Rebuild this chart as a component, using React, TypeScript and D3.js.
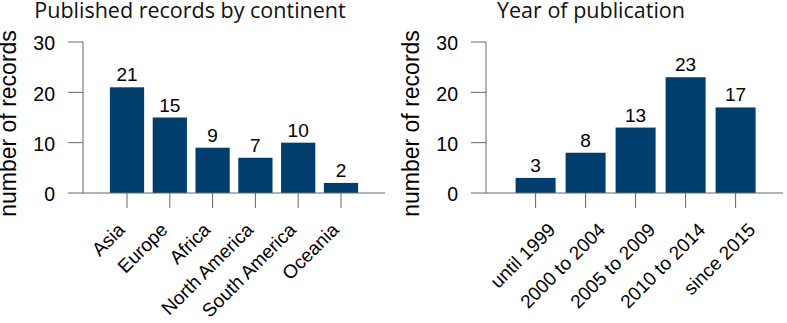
import * as d3 from "d3";

const continents = ["Asia", "Europe", "Africa", "North America", "South America", "Oceania"];
const continentCounts = [21, 15, 9, 7, 10, 2];

const periods = ["until 1999", "2000 to 2004", "2005 to 2009", "2010 to 2014", "since 2015"];
const periodCounts = [3, 8, 13, 23, 17];

const yTicks = [0, 10, 20, 30];

const BAR = "#003e6e";
const AXIS = "#666";
const SANS = "'Liberation Sans', Arial, Helvetica, sans-serif";
const TITLE_FONT = "'Open Sans', 'Noto Sans', sans-serif";

function Panel({ title, cats, vals, axisX, xEnd, bandRange, labelDx, tickLabelX, yTitleX, titleX }) {
  const y = d3.scaleLinear().domain([0, 30]).range([193, 42]);
  const x = d3.scaleBand().domain(cats).range(bandRange).paddingInner(0.2).paddingOuter(0.5);
  const tick = 15;

  return (
    <g>
      <text x={titleX} y={18} textAnchor="middle" fontFamily={TITLE_FONT} fontSize={21.5} fill="#111">
        {title}
      </text>
      <text
        transform={`translate(${yTitleX},123.5) rotate(-90)`}
        textAnchor="middle"
        fontFamily={SANS}
        fontSize={23}
        fill="#000"
      >
        number of records
      </text>

      {/* bars */}
      {cats.map((c, i) => (
        <rect key={c} x={x(c)} y={y(vals[i])} width={x.bandwidth()} height={y(0) - y(vals[i])} fill={BAR} />
      ))}

      {/* value labels */}
      {cats.map((c, i) => (
        <text key={c} x={x(c) + x.bandwidth() / 2} y={y(vals[i]) - 6} textAnchor="middle" fontFamily={SANS} fontSize={19} fill="#000">
          {vals[i]}
        </text>
      ))}

      {/* y axis */}
      <line x1={axisX} x2={axisX} y1={y(30)} y2={y(0)} stroke={AXIS} />
      {yTicks.map((t) => (
        <g key={t}>
          <line x1={axisX - tick} x2={axisX} y1={y(t)} y2={y(t)} stroke={AXIS} />
          <text x={tickLabelX} y={y(t)} dy="0.42em" textAnchor="end" fontFamily={SANS} fontSize={19.5} fill="#000">
            {t}
          </text>
        </g>
      ))}

      {/* x axis */}
      <line x1={axisX} x2={xEnd} y1={y(0)} y2={y(0)} stroke={AXIS} />
      {cats.map((c) => {
        const cx = x(c) + x.bandwidth() / 2;
        return (
          <g key={c}>
            <line x1={cx} x2={cx} y1={y(0)} y2={y(0) + tick} stroke={AXIS} />
            <text
              transform={`translate(${cx + labelDx},231) rotate(-45)`}
              textAnchor="end"
              fontFamily={SANS}
              fontSize={19}
              fill="#000"
            >
              {c}
            </text>
          </g>
        );
      })}
    </g>
  );
}

export default function App() {
  return (
    <svg width={787} height={323} style={{ position: "absolute", left: 0, top: 0, background: "#fff" }}>
      <Panel
        title="Published records by continent"
        cats={continents}
        vals={continentCounts}
        axisX={83}
        xEnd={385}
        bandRange={[88.5, 379.5]}
        labelDx={-1}
        tickLabelX={55}
        yTitleX={16}
        titleX={190}
      />
      <Panel
        title="Year of publication"
        cats={periods}
        vals={periodCounts}
        axisX={486}
        xEnd={783}
        bandRange={[490.6, 780.6]}
        labelDx={21}
        tickLabelX={458}
        yTitleX={419}
        titleX={591}
      />
    </svg>
  );
}
